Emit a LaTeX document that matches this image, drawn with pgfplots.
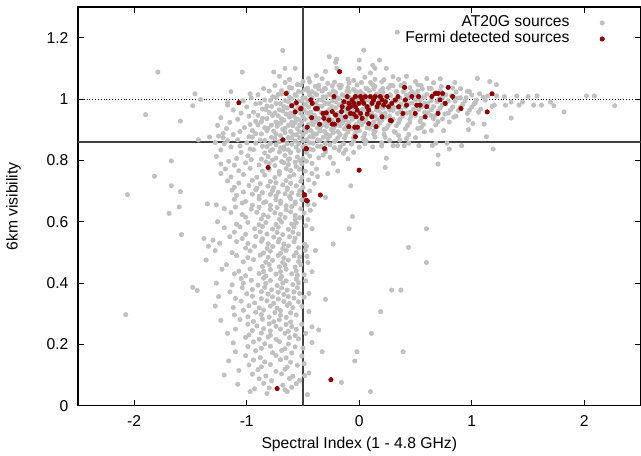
\documentclass[border=0pt]{standalone}
\usepackage{fontspec}
\setmainfont{Liberation Sans}
\usepackage{pgfplots}
\pgfplotsset{compat=1.18}
\definecolor{ptgray}{RGB}{192,192,192}
\definecolor{ptred}{RGB}{139,0,0}
\definecolor{linegray}{RGB}{64,64,64}
\begin{document}
\begin{tikzpicture}
\begin{axis}[
  scale only axis, width=394.1pt, height=279.3pt,
  xmin=-2.5, xmax=2.5, ymin=0, ymax=1.3,
  xtick={-2,-1,0,1,2}, ytick={0,0.2,0.4,0.6,0.8,1,1.2},
  /pgf/number format/assume math mode=true,
  tick align=inside, major tick length=4.2pt, minor tick num=0,
  axis line style={line width=0.8pt}, every tick/.style={line width=0.6pt, black},
  tick label style={font=\fontsize{11pt}{13pt}\selectfont},
  xticklabel style={yshift=-3.6pt},
  yticklabel style={xshift=-3.1pt},
  label style={font=\fontsize{11pt}{13pt}\selectfont},
  xlabel={Spectral Index (1 - 4.8 GHz)},
  ylabel={6km visibility},
  xlabel style={at={(axis description cs:0.5,-0.0978)}, anchor=center},
  ylabel style={at={(axis description cs:-0.1146,0.5)}, anchor=center, rotate=0},
  legend plot pos=right,
  legend cell align=right,
  legend style={draw=none, fill=none, at={(rel axis cs:1,1)}, anchor=north east, xshift=-25.3pt, yshift=-5.6pt,
    inner sep=0pt, outer sep=0pt, row sep=0pt,
    font=\fontsize{11pt}{13pt}\selectfont,
    nodes={inner sep=0pt, text height=8.2pt, text depth=3pt},
    /tikz/every odd column/.append style={column sep=21.4pt},
    /tikz/every even column/.append style={column sep=21.4pt}},
]
\addplot[black, line width=0.5pt, dash pattern=on 0.6pt off 1.4pt, forget plot] coordinates {(-2.5,1) (2.5,1)};
\addplot[only marks, mark=*, mark size=1.55pt, color=ptgray, mark options={draw=ptgray, fill=ptgray}] coordinates {
(-0.68,1.158) (0.338,1.218) (0.04,1.159) (-0.267,1.138) (-0.2,1.13) (-0.21,1.12) (0.0,1.127) (0.18,1.127) (0.12,1.11) (0.14,1.1) (1.05,1.067) (1.16,1.057) (1.22,1.047)
(-0.66,1.10) (-0.57,1.10) (-0.2,1.10) (0.0,1.10) (0.24,1.10)
(-1.79,1.088) (-1.04,1.088) (-0.76,1.088) (-0.30,1.09) (0.1,1.085)
(-0.71,1.074) (-0.45,1.067) (-0.38,1.076) (-0.1,1.065) (0.05,1.071) (0.14,1.064) (0.3,1.073) (0.42,1.074) (0.6,1.067)
(-0.62,1.064) (-0.5,1.057) (-0.33,1.066) (-0.22,1.055) (-0.05,1.061) (0.1,1.054) (0.22,1.063) (0.35,1.064) (0.5,1.057) (0.72,1.066)
(-0.66,1.054) (-0.55,1.047) (-0.44,1.056) (-0.36,1.045) (-0.28,1.051) (-0.18,1.044) (-0.09,1.053) (0.02,1.054) (0.12,1.047) (0.2,1.056) (0.28,1.045) (0.4,1.051) (0.55,1.044) (0.66,1.053) (0.85,1.054)
(-0.75,1.044) (-0.62,1.037) (-0.52,1.046) (-0.46,1.035) (-0.39,1.041) (-0.31,1.034) (-0.24,1.043) (-0.16,1.044) (-0.1,1.037) (-0.02,1.046) (0.06,1.035) (0.14,1.041) (0.21,1.034) (0.3,1.043) (0.37,1.044) (0.45,1.037) (0.52,1.046) (0.62,1.035) (0.73,1.041) (0.9,1.034)
(-0.85,1.034) (-0.69,1.027) (-0.6,1.036) (-0.54,1.025) (-0.48,1.031) (-0.42,1.024) (-0.36,1.033) (-0.3,1.034) (-0.23,1.027) (-0.17,1.036) (-0.11,1.025) (-0.05,1.031) (0.01,1.024) (0.07,1.033) (0.13,1.034) (0.19,1.027) (0.26,1.036) (0.33,1.025) (0.4,1.031) (0.47,1.024) (0.56,1.033) (0.64,1.034) (0.72,1.027) (0.83,1.036) (0.96,1.025)
(-1.14,1.024) (-0.97,1.017) (-0.8,1.026) (-0.72,1.015) (-0.64,1.021) (-0.57,1.014) (-0.51,1.023) (-0.45,1.024) (-0.39,1.017) (-0.33,1.026) (-0.27,1.015) (-0.21,1.021) (-0.15,1.014) (-0.09,1.023) (-0.03,1.024) (0.03,1.017) (0.09,1.026) (0.15,1.015) (0.21,1.021) (0.27,1.014) (0.33,1.023) (0.39,1.024) (0.45,1.017) (0.52,1.026) (0.6,1.015) (0.68,1.021) (0.77,1.014) (0.86,1.023) (0.98,1.024) (1.07,1.017)
(-1.46,1.017) (-0.9,1.014) (-0.77,1.007) (-0.69,1.016) (-0.62,1.005) (-0.56,1.011) (-0.5,1.004) (-0.44,1.013) (-0.38,1.014) (-0.32,1.007) (-0.26,1.016) (-0.2,1.005) (-0.14,1.011) (-0.08,1.004) (-0.02,1.013) (0.04,1.014) (0.1,1.007) (0.16,1.016) (0.22,1.005) (0.28,1.011) (0.35,1.004) (0.42,1.013) (0.5,1.014) (0.58,1.007) (0.66,1.016) (0.74,1.005) (0.82,1.011) (0.9,1.004) (1.0,1.013) (1.14,1.01) (1.22,1.01) (1.29,1.008) (1.4,1.01) (1.5,1.008) (1.58,1.01) (2.02,1.01) (2.09,1.01)
(-1.41,0.998) (-1.17,0.988) (-0.96,1.004) (-0.84,0.997) (-0.74,1.006) (-0.66,0.995) (-0.6,1.001) (-0.54,0.994) (-0.48,1.003) (-0.42,1.004) (-0.36,0.997) (-0.3,1.006) (-0.24,0.995) (-0.18,1.001) (-0.12,0.994) (-0.06,1.003) (0.0,1.004) (0.06,0.997) (0.12,1.006) (0.18,0.995) (0.24,1.001) (0.3,0.994) (0.36,1.003) (0.43,1.004) (0.5,0.997) (0.57,1.006) (0.64,0.995) (0.71,1.001) (0.79,0.994) (0.87,1.003) (0.95,1.004) (1.04,0.997) (1.1,1.006)
(-1.03,0.994) (-0.88,0.987) (-0.79,0.996) (-0.7,0.985) (-0.63,0.991) (-0.57,0.984) (-0.51,0.993) (-0.45,0.994) (-0.39,0.987) (-0.33,0.996) (-0.27,0.985) (-0.21,0.991) (-0.15,0.984) (-0.09,0.993) (-0.03,0.994) (0.03,0.987) (0.09,0.996) (0.15,0.985) (0.21,0.991) (0.27,0.984) (0.33,0.993) (0.4,0.994) (0.47,0.987) (0.54,0.996) (0.61,0.985) (0.69,0.991) (0.77,0.984) (0.85,0.993) (0.94,0.994) (1.03,0.987) (1.12,0.996) (1.35,0.99) (1.45,0.99) (1.7,0.99)
(-1.48,0.978) (-1.17,0.98) (-0.92,0.984) (-0.82,0.977) (-0.74,0.986) (-0.67,0.975) (-0.6,0.981) (-0.54,0.974) (-0.48,0.983) (-0.42,0.984) (-0.36,0.977) (-0.3,0.986) (-0.24,0.975) (-0.18,0.981) (-0.12,0.974) (-0.06,0.983) (0.0,0.984) (0.06,0.977) (0.12,0.986) (0.18,0.975) (0.24,0.981) (0.3,0.974) (0.37,0.983) (0.44,0.984) (0.51,0.977) (0.58,0.986) (0.66,0.975) (0.74,0.981) (0.83,0.974) (0.92,0.983) (1.02,0.984) (1.2,0.98) (1.3,0.98) (1.42,0.98) (1.55,0.98) (1.62,0.98) (1.73,0.978) (2.27,0.978)
(-1.0,0.974) (-0.86,0.967) (-0.78,0.976) (-0.71,0.965) (-0.64,0.971) (-0.57,0.964) (-0.51,0.973) (-0.45,0.974) (-0.39,0.967) (-0.33,0.976) (-0.27,0.965) (-0.21,0.971) (-0.15,0.964) (-0.09,0.973) (-0.03,0.974) (0.03,0.967) (0.09,0.976) (0.15,0.965) (0.21,0.971) (0.27,0.964) (0.34,0.973) (0.41,0.974) (0.48,0.967) (0.56,0.976) (0.64,0.965) (0.72,0.971) (0.81,0.964) (0.9,0.973) (1.0,0.974) (1.08,0.967) (1.18,0.976)
(-1.12,0.964) (-0.94,0.957) (-0.83,0.966) (-0.75,0.955) (-0.68,0.961) (-0.61,0.954) (-0.55,0.963) (-0.49,0.964) (-0.43,0.957) (-0.37,0.966) (-0.31,0.955) (-0.25,0.961) (-0.19,0.954) (-0.13,0.963) (-0.07,0.964) (-0.01,0.957) (0.05,0.966) (0.11,0.955) (0.17,0.961) (0.23,0.954) (0.3,0.963) (0.37,0.964) (0.45,0.957) (0.53,0.966) (0.61,0.955) (0.7,0.961) (0.79,0.954) (0.88,0.963) (0.98,0.964) (1.06,0.957) (1.82,0.958)
(-1.9,0.949) (-1.05,0.954) (-0.9,0.947) (-0.8,0.956) (-0.72,0.945) (-0.65,0.951) (-0.58,0.944) (-0.52,0.953) (-0.46,0.954) (-0.4,0.947) (-0.34,0.956) (-0.28,0.945) (-0.22,0.951) (-0.16,0.944) (-0.1,0.953) (-0.04,0.954) (0.02,0.947) (0.08,0.956) (0.14,0.945) (0.2,0.951) (0.27,0.944) (0.34,0.953) (0.42,0.954) (0.5,0.947) (0.58,0.956) (0.67,0.945) (0.76,0.951) (0.86,0.944) (0.96,0.953)
(-1.23,0.939) (-0.98,0.944) (-0.86,0.937) (-0.77,0.946) (-0.69,0.935) (-0.62,0.941) (-0.56,0.934) (-0.5,0.943) (-0.44,0.944) (-0.38,0.937) (-0.32,0.946) (-0.26,0.935) (-0.2,0.941) (-0.14,0.934) (-0.08,0.943) (-0.02,0.944) (0.04,0.937) (0.1,0.946) (0.16,0.935) (0.23,0.941) (0.3,0.934) (0.38,0.943) (0.46,0.944) (0.55,0.937) (0.64,0.946) (0.74,0.935) (0.84,0.941) (1.35,0.938)
(-1.59,0.928) (-1.08,0.934) (-0.92,0.927) (-0.82,0.936) (-0.74,0.925) (-0.67,0.931) (-0.6,0.924) (-0.54,0.933) (-0.48,0.934) (-0.42,0.927) (-0.36,0.936) (-0.3,0.925) (-0.24,0.931) (-0.18,0.924) (-0.12,0.933) (-0.06,0.934) (0.0,0.927) (0.06,0.936) (0.13,0.925) (0.2,0.931) (0.28,0.924) (0.36,0.933) (0.45,0.934) (0.54,0.927) (0.66,0.936) (0.8,0.925) (0.97,0.931)
(-1.15,0.924) (-0.97,0.917) (-0.87,0.926) (-0.78,0.915) (-0.7,0.921) (-0.63,0.914) (-0.57,0.923) (-0.51,0.924) (-0.45,0.917) (-0.39,0.926) (-0.33,0.915) (-0.27,0.921) (-0.21,0.914) (-0.15,0.923) (-0.09,0.924) (-0.03,0.917) (0.04,0.926) (0.11,0.915) (0.18,0.921) (0.26,0.914) (0.35,0.923) (0.45,0.924) (0.57,0.917) (0.7,0.926) (1.01,0.92) (1.11,0.918)
(-1.26,0.914) (-1.02,0.907) (-0.9,0.916) (-0.81,0.905) (-0.73,0.911) (-0.66,0.904) (-0.59,0.913) (-0.53,0.914) (-0.47,0.907) (-0.41,0.916) (-0.35,0.905) (-0.29,0.911) (-0.23,0.904) (-0.17,0.913) (-0.11,0.914) (-0.05,0.907) (0.02,0.916) (0.09,0.905) (0.16,0.911) (0.24,0.904) (0.33,0.913) (0.43,0.914) (0.55,0.907) (0.68,0.916)
(-1.18,0.904) (-0.95,0.897) (-0.84,0.906) (-0.76,0.895) (-0.68,0.901) (-0.61,0.894) (-0.55,0.903) (-0.49,0.904) (-0.43,0.897) (-0.37,0.906) (-0.31,0.895) (-0.25,0.901) (-0.19,0.894) (-0.13,0.903) (-0.07,0.904) (0.0,0.897) (0.07,0.906) (0.14,0.895) (0.22,0.901) (0.31,0.894) (0.41,0.903) (0.52,0.904) (0.64,0.897) (0.75,0.897) (0.97,0.90)
(-1.21,0.888) (-1.06,0.894) (-0.92,0.887) (-0.82,0.896) (-0.74,0.885) (-0.66,0.891) (-0.59,0.884) (-0.53,0.893) (-0.47,0.894) (-0.41,0.887) (-0.35,0.896) (-0.29,0.885) (-0.23,0.891) (-0.17,0.884) (-0.1,0.893) (-0.03,0.894) (0.05,0.887) (0.13,0.896) (0.22,0.885) (0.32,0.891) (0.44,0.884) (0.58,0.893)
(-1.25,0.879) (-1.12,0.884) (-0.98,0.877) (-0.87,0.886) (-0.78,0.875) (-0.7,0.881) (-0.63,0.874) (-0.56,0.883) (-0.5,0.884) (-0.44,0.877) (-0.38,0.886) (-0.32,0.875) (-0.26,0.881) (-0.19,0.874) (-0.12,0.883) (-0.04,0.884) (0.04,0.877) (0.13,0.886) (0.23,0.875) (0.35,0.881) (0.5,0.874) (1.13,0.877)
(-1.43,0.867) (-1.33,0.876) (-1.21,0.874) (-1.08,0.867) (-0.95,0.876) (-0.84,0.865) (-0.75,0.871) (-0.67,0.864) (-0.6,0.873) (-0.53,0.874) (-0.47,0.867) (-0.41,0.876) (-0.35,0.865) (-0.28,0.871) (-0.21,0.864) (-0.13,0.873) (-0.05,0.874) (0.04,0.867) (0.14,0.876) (0.27,0.865) (0.42,0.871)
(-1.28,0.858) (-1.17,0.864) (-1.0,0.857) (-0.88,0.866) (-0.79,0.855) (-0.71,0.861) (-0.64,0.854) (-0.57,0.863) (-0.5,0.864) (-0.44,0.857) (-0.37,0.866) (-0.3,0.855) (-0.22,0.861) (-0.14,0.854) (-0.05,0.863) (0.06,0.864) (0.2,0.857) (0.36,0.866) (0.44,0.856) (0.68,0.856) (0.78,0.856)
(-1.2,0.854) (-1.06,0.847) (-0.92,0.856) (-0.82,0.845) (-0.74,0.851) (-0.67,0.844) (-0.6,0.853) (-0.54,0.854) (-0.48,0.847) (-0.41,0.856) (-0.34,0.845) (-0.26,0.851) (-0.17,0.844) (-0.07,0.853) (0.05,0.854) (0.2,0.847) (0.3,0.848) (0.34,0.848) (0.40,0.848) (0.53,0.848) (0.65,0.848) (0.91,0.848)
(-1.14,0.844) (-0.97,0.837) (-0.86,0.846) (-0.77,0.835) (-0.7,0.841) (-0.63,0.834) (-0.56,0.843) (-0.5,0.844) (-0.44,0.837) (-0.37,0.846) (-0.3,0.835) (-0.22,0.841) (-0.12,0.834) (0.0,0.843) (0.12,0.844) (0.8,0.837) (1.19,0.837)
(-1.23,0.834) (-1.05,0.826) (-0.94,0.835) (-0.84,0.824) (-0.79,0.831) (-0.71,0.827) (-0.67,0.836) (-0.61,0.825) (-0.54,0.832) (-0.47,0.826) (-0.41,0.834) (-0.3,0.828) (-0.18,0.833) (-0.05,0.826)
(-1.27,0.813) (-1.09,0.806) (-0.99,0.815) (-0.87,0.804) (-0.81,0.812) (-0.74,0.807) (-0.66,0.816) (-0.62,0.805) (-0.55,0.811) (-0.5,0.806) (-0.44,0.814) (-0.36,0.808) (-0.32,0.817) (-0.26,0.81) (-0.14,0.823) (-0.1,0.805) (0.24,0.807) (0.70,0.817)
(-1.67,0.798) (-1.16,0.797) (-0.96,0.802) (-0.83,0.795) (-0.77,0.801) (-0.69,0.796) (-0.63,0.803) (-0.57,0.794) (-0.53,0.80) (-0.47,0.797)
(-1.23,0.788) (-1.11,0.784) (-1.01,0.792) (-0.89,0.785) (-0.8,0.79) (-0.75,0.783) (-0.67,0.792) (-0.63,0.786) (-0.56,0.78) (-0.51,0.789) (-0.42,0.79) (-0.23,0.79) (0.70,0.788)
(-1.19,0.772) (-1.07,0.766) (-0.97,0.774) (-0.86,0.765) (-0.8,0.77) (-0.71,0.764) (-0.65,0.773) (-0.61,0.767) (-0.53,0.771) (-0.48,0.765) (-0.38,0.772) (-0.19,0.765) (0.23,0.777)
(-1.82,0.748) (-1.23,0.757) (-1.14,0.746) (-1.03,0.754) (-0.91,0.745) (-0.84,0.752) (-0.75,0.744) (-0.71,0.755) (-0.62,0.747) (-0.58,0.753) (-0.51,0.744) (-0.42,0.757) (-0.37,0.747) (-0.28,0.757)
(-1.17,0.733) (-1.07,0.726) (-0.95,0.735) (-0.88,0.724) (-0.79,0.731) (-0.74,0.727) (-0.65,0.734) (-0.61,0.725) (-0.52,0.732) (-0.45,0.736) (-0.4,0.725)
(-1.67,0.717) (-1.11,0.712) (-0.98,0.718) (-0.91,0.709) (-0.81,0.716) (-0.76,0.711) (-0.68,0.72) (-0.64,0.71) (-0.56,0.717) (-0.5,0.712) (-0.075,0.717)
(-1.59,0.698) (-1.13,0.703) (-1.03,0.697) (-0.92,0.704) (-0.86,0.695) (-0.77,0.702) (-0.72,0.696) (-0.64,0.705) (-0.6,0.694) (-0.53,0.701) (-0.44,0.70)
(-2.06,0.688) (-1.09,0.686) (-0.95,0.69) (-0.89,0.683) (-0.79,0.689) (-0.74,0.684) (-0.66,0.691) (-0.62,0.682) (-0.54,0.688) (-0.30,0.679)
(-1.11,0.673) (-1.01,0.666) (-0.89,0.674) (-0.83,0.665) (-0.74,0.672) (-0.7,0.667) (-0.61,0.675) (-0.57,0.664) (-0.51,0.671)
(-1.35,0.658) (-1.27,0.655) (-1.04,0.661) (-0.95,0.654) (-0.85,0.662) (-0.79,0.653) (-0.7,0.66) (-0.65,0.652) (-0.57,0.659) (-0.456,0.656) (-0.40,0.656)
(-1.6,0.648) (-1.2,0.643) (-1.1,0.648) (-0.96,0.641) (-0.89,0.647) (-0.79,0.64) (-0.73,0.646) (-0.65,0.639) (-0.6,0.649) (-0.52,0.642) (-0.435,0.637)
(-1.69,0.627) (-1.14,0.63) (-1.04,0.623) (-0.91,0.631) (-0.85,0.622) (-0.75,0.629) (-0.7,0.624) (-0.61,0.632) (-0.57,0.621) (-0.49,0.628)
(-1.01,0.615) (-0.87,0.609) (-0.81,0.616) (-0.71,0.608) (-0.66,0.614) (-0.57,0.607) (-0.53,0.613) (-0.456,0.607) (-0.06,0.617)
(-1.26,0.60) (-1.09,0.592) (-0.99,0.598) (-0.89,0.59) (-0.83,0.597) (-0.74,0.591) (-0.69,0.599) (-0.6,0.592) (-0.56,0.596)
(-1.2,0.58) (-1.06,0.583) (-0.93,0.577) (-0.86,0.584) (-0.77,0.576) (-0.72,0.582) (-0.63,0.575) (-0.58,0.583) (-0.476,0.587) (-0.42,0.577) (-0.09,0.577) (0.597,0.577)
(-1.58,0.558) (-1.11,0.566) (-1.01,0.559) (-0.88,0.567) (-0.82,0.56) (-0.73,0.565) (-0.68,0.558) (-0.59,0.566) (-0.54,0.56)
(-1.38,0.545) (-1.3,0.54) (-1.15,0.551) (-1.04,0.545) (-0.92,0.552) (-0.86,0.544) (-0.76,0.55) (-0.71,0.543) (-0.62,0.551) (-0.57,0.546)
(-1.24,0.53) (-1.09,0.535) (-0.99,0.529) (-0.87,0.536) (-0.81,0.528) (-0.72,0.534) (-0.67,0.527) (-0.58,0.535) (-0.485,0.527) (-0.232,0.527)
(-1.34,0.52) (-1.01,0.514) (-0.93,0.52) (-0.82,0.513) (-0.77,0.519) (-0.68,0.512) (-0.63,0.521) (-0.54,0.515) (-0.47,0.52) (0.438,0.516)
(-1.28,0.506) (-1.13,0.499) (-0.97,0.505) (-0.85,0.498) (-0.79,0.504) (-0.7,0.497) (-0.65,0.506) (-0.56,0.499) (-0.48,0.507) (-0.39,0.506)
(-1.09,0.49) (-0.99,0.483) (-0.88,0.491) (-0.81,0.484) (-0.72,0.49) (-0.67,0.482) (-0.58,0.489) (-0.53,0.485) (-0.465,0.487)
(-1.36,0.475) (-1.03,0.469) (-0.94,0.476) (-0.83,0.468) (-0.77,0.474) (-0.68,0.467) (-0.63,0.475) (-0.54,0.47) (-0.456,0.467) (0.597,0.467)
(-1.18,0.46) (-0.86,0.454) (-0.8,0.46) (-0.71,0.453) (-0.66,0.459) (-0.57,0.452) (-0.52,0.46)
(-1.22,0.445) (-1.07,0.439) (-0.97,0.446) (-0.85,0.438) (-0.79,0.444) (-0.7,0.437) (-0.65,0.445) (-0.56,0.44) (-0.42,0.437)
(-1.11,0.43) (-1.01,0.424) (-0.89,0.431) (-0.83,0.423) (-0.74,0.429) (-0.69,0.422) (-0.6,0.43) (-0.55,0.425) (-0.49,0.427)
(-1.05,0.415) (-0.96,0.409) (-0.85,0.416) (-0.79,0.408) (-0.7,0.414) (-0.65,0.407) (-0.56,0.413) (-0.476,0.407)
(-1.27,0.40) (-1.13,0.394) (-1.03,0.4) (-0.9,0.393) (-0.83,0.399) (-0.73,0.392) (-0.68,0.4) (-0.59,0.395) (-0.54,0.401)
(-1.48,0.386) (-1.04,0.385) (-0.95,0.379) (-0.84,0.386) (-0.78,0.378) (-0.69,0.384) (-0.64,0.377) (-0.55,0.385)
(-1.44,0.376) (-1.15,0.371) (-1.0,0.365) (-0.87,0.372) (-0.81,0.364) (-0.72,0.37) (-0.67,0.363) (-0.58,0.371) (-0.53,0.366) (-0.447,0.366) (0.288,0.377) (0.37,0.377)
(-1.25,0.356) (-1.1,0.35) (-0.95,0.357) (-0.87,0.349) (-0.77,0.355) (-0.72,0.348) (-0.63,0.356) (-0.58,0.351) (-0.49,0.354) (-0.30,0.347)
(-1.05,0.341) (-0.93,0.335) (-0.82,0.342) (-0.76,0.334) (-0.67,0.34) (-0.62,0.333) (-0.54,0.339)
(-1.28,0.325) (-1.12,0.32) (-0.98,0.326) (-0.89,0.319) (-0.79,0.325) (-0.73,0.318) (-0.64,0.327) (-0.59,0.32) (-0.51,0.324)
(-1.03,0.311) (-0.92,0.305) (-0.85,0.312) (-0.75,0.304) (-0.7,0.31) (-0.61,0.303) (-0.447,0.307) (0.19,0.307)
(-2.075,0.297) (-1.11,0.296) (-0.99,0.29) (-0.87,0.297) (-0.8,0.289) (-0.7,0.295) (-0.65,0.288) (-0.56,0.296)
(-1.23,0.278) (-1.06,0.281) (-0.94,0.275) (-0.86,0.282) (-0.76,0.274) (-0.71,0.28) (-0.61,0.273)
(-0.99,0.266) (-0.91,0.26) (-0.8,0.267) (-0.74,0.259) (-0.65,0.265) (-0.6,0.258) (-0.51,0.266) (-0.42,0.257)
(-1.1,0.25) (-0.95,0.245) (-0.85,0.251) (-0.79,0.244) (-0.7,0.25) (-0.63,0.243) (-0.56,0.249) (-0.36,0.247)
(-1.17,0.236) (-0.98,0.231) (-0.87,0.237) (-0.79,0.23) (-0.66,0.236) (-0.57,0.229) (-0.476,0.236) (0.108,0.236)
(-1.01,0.223) (-0.89,0.217) (-0.81,0.224) (-0.74,0.216) (-0.62,0.222) (-0.54,0.218)
(-1.12,0.205) (-0.94,0.208) (-0.84,0.202) (-0.71,0.209) (-0.63,0.201) (-0.42,0.206)
(-0.99,0.193) (-0.87,0.187) (-0.79,0.194) (-0.66,0.186) (-0.57,0.192) (-0.5,0.188)
(-1.1,0.176) (-0.92,0.179) (-0.77,0.173) (-0.69,0.18) (-0.6,0.172) (-0.33,0.176) (-0.02,0.176) (0.39,0.176)
(-1.01,0.163) (-0.88,0.157) (-0.74,0.164) (-0.65,0.156) (-0.51,0.162)
(-1.16,0.146) (-0.94,0.149) (-0.84,0.143) (-0.7,0.15) (-0.61,0.142) (-0.04,0.146)
(-0.98,0.133) (-0.87,0.127) (-0.79,0.134) (-0.64,0.126) (-0.55,0.132) (-0.49,0.137)
(-1.07,0.115) (-0.9,0.118) (-0.74,0.112) (-0.66,0.119) (-0.447,0.107)
(-1.2,0.10) (-0.95,0.103) (-0.83,0.097) (-0.69,0.104) (-0.59,0.096) (-0.485,0.098)
(-0.89,0.088) (-0.78,0.082) (-0.62,0.089) (-0.53,0.083) (-0.158,0.076)
(-1.08,0.07) (-0.85,0.073) (-0.68,0.067) (-0.56,0.072)
(-0.93,0.055) (-0.8,0.058) (-0.66,0.052) (-0.6,0.06)
(-0.97,0.046) (-0.64,0.046) (0.10,0.046) (-0.82,0.04) (-0.46,0.036)
};
\addlegendentry{AT20G sources}
\addplot[linegray, line width=1pt, forget plot] coordinates {(-0.5,0) (-0.5,1.3)};
\addplot[linegray, line width=1pt, forget plot] coordinates {(-2.5,0.86) (2.5,0.86)};
\addplot[only marks, mark=*, mark size=1.55pt, color=ptred, mark options={draw=ptred, fill=ptred}] coordinates {
(-0.65,1.018) (-1.07,0.988) (-0.56,0.988) (-0.60,0.978) (-0.52,0.968) (-0.57,0.958) (-0.68,0.867) (-0.47,0.838) (-0.81,0.777) (-0.49,0.688) (-0.47,0.67)
(-0.73,0.056) (-0.252,0.085)
(-0.43,0.997) (-0.418,0.986) (-0.518,0.969) (-0.423,0.939) (-0.462,0.908) (-0.352,0.918) (-0.24,0.918) (-0.22,0.918)
(-0.24,0.959) (-0.21,0.948) (-0.225,1.008) (-0.175,1.089) (-0.158,0.959) (-0.107,1.008) (-0.093,0.986) (-0.078,0.975)
(-0.063,0.997) (-0.049,0.986) (-0.034,1.008) (-0.034,0.975) (-0.019,0.964) (-0.004,0.986) (0.011,1.008) (0.025,0.997)
(0.04,0.986) (0.055,1.008) (0.07,0.975) (0.084,0.964) (0.099,1.008) (0.113,0.986) (0.128,0.997) (0.143,1.008)
(0.158,0.975) (0.172,0.986) (0.187,1.008) (0.202,0.997) (0.217,0.98) (0.232,0.991) (0.246,1.008) (0.261,0.975)
(0.29,0.986) (0.32,0.997) (0.344,1.008) (0.403,1.038) (0.41,0.997) (0.42,0.98) (0.388,0.953) (0.467,1.008)
(0.512,0.98) (0.541,0.98) (0.497,0.953) (0.677,1.018) (0.70,1.018) (0.74,1.018) (0.79,1.038) (0.83,1.008)
(0.904,0.969) (1.137,0.958) (1.18,1.017) (-0.034,0.877) (-0.04,0.908) (-0.016,0.908) (-0.099,0.969) (-0.05,0.951)
(0.084,0.92) (0.149,0.91) (0.07,0.951) (0.113,0.942) (0.285,0.929) (-0.473,0.838) (-0.308,0.838) (-0.001,0.768)
(-0.485,0.687) (-0.346,0.687) (-0.462,0.668) (-0.323,0.953) (-0.293,0.955) (-0.27,0.931) (-0.388,0.969) (-0.373,0.969)
(-0.314,0.937) (-0.152,0.975) (-0.137,0.991) (-0.078,0.953) (0.011,0.953) (0.025,0.937) (0.202,0.942) (0.276,0.931)
(0.35,0.975) (0.527,1.008) (0.6,0.975) (0.645,1.008) (0.718,0.997) (0.763,0.986) (0.70,0.953) (0.586,0.942)
(-0.093,0.91) (-0.028,0.942) (-0.187,0.931) (-0.122,0.942)
};
\addlegendentry{Fermi detected sources}
\end{axis}
\pgfresetboundingbox
\path[use as bounding box] (-54.6pt,-35pt) rectangle (394.4pt,284.2pt);
\end{tikzpicture}
\end{document}
